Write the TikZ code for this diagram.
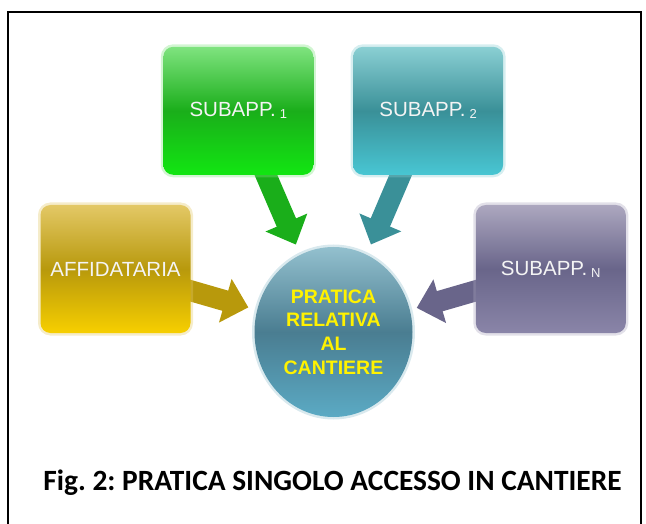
\documentclass[tikz,border=0pt]{standalone}
\usepackage{fontspec}
\setmainfont{Liberation Sans}
\newfontfamily\calibrifont{Carlito}
\usetikzlibrary{shapes.geometric,arrows.meta,backgrounds}
\frenchspacing

\definecolor{grtop}{HTML}{7FE37F}
\definecolor{grmid}{HTML}{1AAE1A}
\definecolor{grbot}{HTML}{12E612}
\definecolor{tltop}{HTML}{8ACFD3}
\definecolor{tlmid}{HTML}{3A9098}
\definecolor{tlbot}{HTML}{48C6D3}
\definecolor{gdtop}{HTML}{E3C866}
\definecolor{gdmid}{HTML}{B8990C}
\definecolor{gdbot}{HTML}{F7CF00}
\definecolor{pptop}{HTML}{ACA7BF}
\definecolor{ppmid}{HTML}{69658A}
\definecolor{ppbot}{HTML}{8A85A8}
\definecolor{eltop}{HTML}{93C0CE}
\definecolor{elmid}{HTML}{4A7D91}
\definecolor{elbot}{HTML}{5BAAC4}
\definecolor{boxtext}{HTML}{F4F4F4}

\tikzset{
  box/.style={rectangle, rounded corners=10pt, minimum width=150pt, minimum height=128pt,
    text=boxtext, font=\fontsize{20.5}{24}\selectfont},
  glow/.style={preaction={draw=#1, line width=5pt, opacity=.35}},
  flow/.style={line width=21pt, -{Triangle[width=44pt,length=24pt]}},
}

\newcommand{\idx}[1]{\hspace{4pt}{\fontsize{13}{13}\selectfont\raisebox{-2pt}{#1}}}

\begin{document}
\begin{tikzpicture}[x=1pt,y=-1pt]
\useasboundingbox (0,0) rectangle (646,524);
% frame
\draw[line width=2pt] (8,530) -- (8,12) -- (641,12) -- (641,530);

% companies
\node[box, glow=grtop, top color=grtop, bottom color=grbot, middle color=grmid] (sub1) at (238.3,110.8) {SUBAPP.\idx{1}};
\node[box, glow=tltop, top color=tltop, bottom color=tlbot, middle color=tlmid] (sub2) at (428.1,110.8) {SUBAPP.\idx{2}};
\node[box, glow=gdtop, top color=gdtop, bottom color=gdbot, middle color=gdmid] (aff) at (115.5,269) {AFFIDATARIA};
\node[box, glow=pptop, top color=pptop, bottom color=ppbot, middle color=ppmid] (subn) at (550.8,269) {SUBAPP.\idx{N}};

% site file
\node[ellipse, glow=eltop, minimum width=158pt, minimum height=170pt, inner sep=0pt,
  top color=eltop, bottom color=elbot, middle color=elmid, text=yellow, align=center,
  font=\bfseries\fontsize{19.5}{23.7}\selectfont] (prat) at (333.5,332) {PRATICA\\RELATIVA\\AL\\CANTIERE};

\begin{scope}[on background layer]
\draw[flow, grmid, shorten >=11pt] (sub1.center) -- (prat);
\draw[flow, tlmid, shorten >=11pt] (sub2.center) -- (prat);
\draw[flow, gdmid, shorten >=9pt] (aff.center) -- (prat);
\draw[flow, ppmid, shorten >=7pt] (subn.center) -- (prat);
\end{scope}

\node[font=\calibrifont\bfseries\fontsize{29.4}{34}\selectfont, anchor=base] (cap) at (332.5,490.5) {Fig. 2: PRATICA SINGOLO ACCESSO IN CANTIERE};
\end{tikzpicture}
\end{document}
